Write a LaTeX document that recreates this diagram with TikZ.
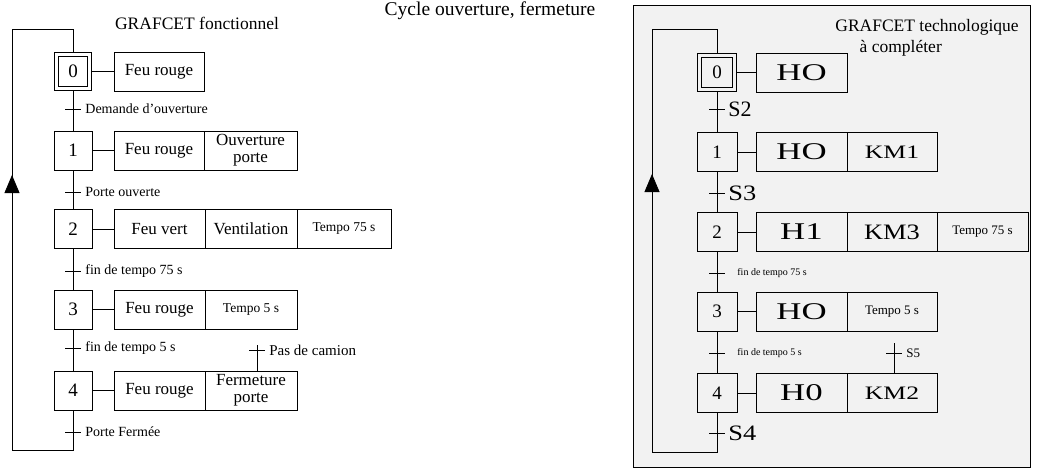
\documentclass[tikz,border=0pt]{standalone}
\usepackage{fontspec}
\setmainfont{Liberation Serif}
\usetikzlibrary{positioning,arrows.meta}
\newcommand\etire[2][1.4]{\scalebox{#1}[1]{#2}}

\begin{document}
\begin{tikzpicture}
  [x=1pt, y=-1pt, line width=0.8pt, node distance=0pt,
   etape/.style={draw, minimum width=38, minimum height=39, inner sep=0pt, outer sep=0pt,
                 font=\fontsize{19}{19}\selectfont},
   initiale/.style={etape, minimum width=33.4, minimum height=34.4, outer sep=2.3pt,
                    double=#1, double distance=3pt},
   action/.style={draw, minimum height=39, inner sep=1pt, outer sep=0pt, align=center,
                  font=\fontsize{17}{17}\selectfont},
   tempo/.style={font=\fontsize{13.5}{14}\selectfont},
   trans/.style={minimum width=16, minimum height=0, inner sep=0pt, outer sep=0pt},
   recep/.style={right=4pt of #1, inner sep=0pt, font=\fontsize{14}{14}\selectfont},
   grand/.style={right=3pt of #1, inner sep=0pt, font=\fontsize{22}{22}\selectfont},
   titre/.style={inner sep=0pt, font=\fontsize{17.5}{18}\selectfont, align=center},
   fleche/.style={-{Triangle[length=18pt,width=15pt]}}]
  \useasboundingbox (0,0) rectangle (1038,469);
  \draw[fill=black!5] (633,5) rectangle (1030,467);

  \node[titre, anchor=base] (cycle) at (490,15) {\fontsize{19.5}{20}\selectfont Cycle ouverture, fermeture};
  \node[titre] (tfonc) at (197,23) {GRAFCET fonctionnel};
  \node[titre] (ttech) at (927,38) {GRAFCET technologique\\[3pt]\hspace*{-3em}à compléter};

  \node[initiale=white] (a0) at (73,71.5) {0};
  \node[etape] (a1) at (73,150.5) {1};
  \node[etape] (a2) at (73,229) {2};
  \node[etape] (a3) at (73,309.5) {3};
  \node[etape] (a4) at (73,390.5) {4};

  \node[action, minimum width=90, anchor=west] (a0x) at (114,71.5) {Feu rouge};
  \node[action, minimum width=90, anchor=west] (a1x) at (114,150.5) {Feu rouge};
  \node[action, minimum width=93, right=of a1x] (a1y) {Ouverture\\porte};
  \node[action, minimum width=91, anchor=west] (a2x) at (114,229) {Feu vert};
  \node[action, minimum width=92, right=of a2x] (a2y) {Ventilation};
  \node[action, minimum width=94, right=of a2y, tempo] (a2z) {Tempo 75 s};
  \node[action, minimum width=91, anchor=west] (a3x) at (114,309.5) {Feu rouge};
  \node[action, minimum width=92, right=of a3x, tempo] (a3y) {Tempo 5 s};
  \node[action, minimum width=91, anchor=west] (a4x) at (114,390.5) {Feu rouge};
  \node[action, minimum width=92, right=of a4x] (a4y) {Fermeture\\porte};

  \node[trans] (ta0) at (73,109) {};
  \node[trans] (ta1) at (73,192) {};
  \node[trans] (ta2) at (73,271) {};
  \node[trans] (ta3) at (73,348) {};
  \node[trans] (ta4) at (73,432) {};
  \node[trans] (ta5) at (257,350) {};
  \node[recep=ta0] (ra0) {Demande d'ouverture};
  \node[recep=ta1] (ra1) {Porte ouverte};
  \node[recep=ta2] (ra2) {fin de tempo 75 s};
  \node[recep=ta3] (ra3) {fin de tempo 5 s};
  \node[recep=ta4] (ra4) {Porte Fermée};
  \node[recep=ta5, font=\fontsize{15}{15}\selectfont] (ra5) {Pas de camion};

  \foreach \e in {0,...,4} {
    \draw (a\e) -- (a\e x);
    \draw (ta\e.west) -- (ta\e.east);
  }
  \draw (ta5.west) -- (ta5.east);
  \foreach \e/\f in {0/1,1/2,2/3,3/4} \draw (a\e) -- (a\f);
  \coordinate (ca) at (257,345);
  \draw (ca) -- (ca |- a4y.north);
  \coordinate (abas) at (12,450);
  \coordinate (ahaut) at (12,29);
  \coordinate (afl) at (12,175);
  \draw (a4) |- (abas) -- (ahaut) -| (a0);
  \draw[fleche] (abas) -- (afl);

  \node[initiale=black!5, minimum width=35.4] (b0) at (717,72.5) {0};
  \node[etape, minimum width=40] (b1) at (717,152) {1};
  \node[etape, minimum width=40] (b2) at (717,232) {2};
  \node[etape, minimum width=40] (b3) at (717,311.5) {3};
  \node[etape, minimum width=40] (b4) at (717,393) {4};

  \node[action, minimum width=91, anchor=west, font=\fontsize{24}{24}\selectfont] (b0x) at (756,72.5) {\etire[1.45]{HO}};
  \node[action, minimum width=91, anchor=west, font=\fontsize{24}{24}\selectfont] (b1x) at (756,152) {\etire[1.45]{HO}};
  \node[action, minimum width=90, right=of b1x, font=\fontsize{19}{19}\selectfont] (b1y) {\etire[1.35]{KM1}};
  \node[action, minimum width=91, anchor=west, font=\fontsize{24}{24}\selectfont] (b2x) at (756,232) {\etire[1.45]{H1}};
  \node[action, minimum width=90, right=of b2x, font=\fontsize{22}{22}\selectfont] (b2y) {\etire[1.2]{KM3}};
  \node[action, minimum width=91, right=of b2y, font=\fontsize{13}{13}\selectfont] (b2z) {Tempo 75 s};
  \node[action, minimum width=91, anchor=west, font=\fontsize{24}{24}\selectfont] (b3x) at (756,311.5) {\etire[1.45]{HO}};
  \node[action, minimum width=90, right=of b3x, font=\fontsize{13}{13}\selectfont] (b3y) {Tempo 5 s};
  \node[action, minimum width=91, anchor=west, font=\fontsize{24}{24}\selectfont] (b4x) at (756,393) {\etire[1.45]{H0}};
  \node[action, minimum width=90, right=of b4x, font=\fontsize{19}{19}\selectfont] (b4y) {\etire[1.35]{KM2}};

  \node[trans] (tb0) at (717,109) {};
  \node[trans] (tb1) at (717,193) {};
  \node[trans] (tb2) at (717,273) {};
  \node[trans] (tb3) at (717,353) {};
  \node[trans] (tb4) at (717,433) {};
  \node[trans] (tb5) at (894,353) {};
  \node[grand=tb0] (rb0) {S2};
  \node[grand=tb1] (rb1) {\etire[1.2]{S3}};
  \node[recep=tb2, right=12pt of tb2, font=\fontsize{10}{10}\selectfont] (rb2) {fin de tempo 75 s};
  \node[recep=tb3, right=12pt of tb3, font=\fontsize{10}{10}\selectfont] (rb3) {fin de tempo 5 s};
  \node[grand=tb4] (rb4) {\etire[1.2]{S4}};
  \node[recep=tb5, font=\fontsize{13}{13}\selectfont] (rb5) {S5};

  \foreach \e in {0,...,4} {
    \draw (b\e) -- (b\e x);
    \draw (tb\e.west) -- (tb\e.east);
  }
  \draw (tb5.west) -- (tb5.east);
  \foreach \e/\f in {0/1,1/2,2/3,3/4} \draw (b\e) -- (b\f);
  \coordinate (cb) at (894,343);
  \draw (cb) -- (cb |- b4y.north);
  \coordinate (bbas) at (652,452);
  \coordinate (bhaut) at (652,29);
  \coordinate (bfl) at (652,174);
  \draw (b4) |- (bbas) -- (bhaut) -| (b0);
  \draw[fleche] (bbas) -- (bfl);
\end{tikzpicture}
\end{document}
